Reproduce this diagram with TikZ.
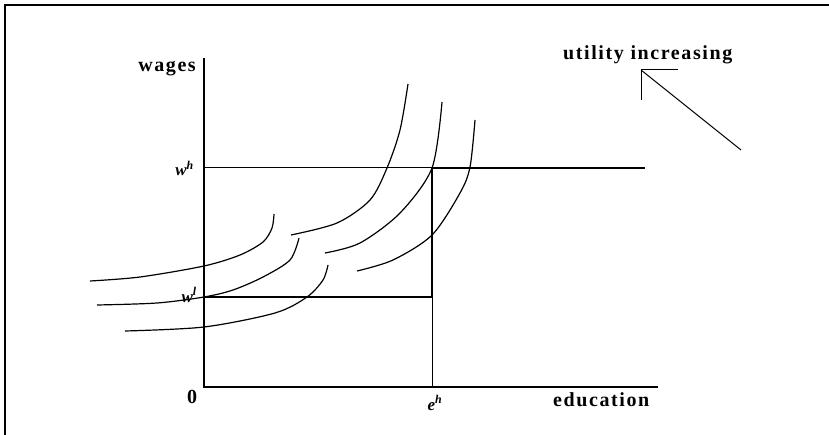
\documentclass[tikz,border=0pt]{standalone}
\usepackage{fontspec}
\setmainfont{Liberation Serif}
\newfontfamily\lblfont[LetterSpace=8]{Liberation Serif}
\usepackage{tikz}
\usetikzlibrary{positioning, calc}
\tikzset{
  tframe/.style={line width=2pt, line join=miter},
  taxis/.style={line width=2.6pt, line join=miter},
  tthin/.style={line width=1pt},
  tthick/.style={line width=2.2pt, line join=miter},
  tcurve/.style={line width=1.2pt},
  tlbl/.style={font=\lblfont\fontsize{20}{22}\selectfont\bfseries, inner sep=0pt},
  tsym/.style={font=\fontsize{17}{19}\selectfont\bfseries\itshape, inner sep=0pt},
}

\begin{document}
\begin{tikzpicture}[x=1pt, y=-1pt]
    \useasboundingbox (0,0) rectangle (829,435);
    \draw[tframe] (5,435) -- (5,5) -- (829,5);
    % axes and the separating contract
    \coordinate (O) at (204,387);
    \coordinate (ytop) at (204,58);
    \coordinate (xend) at (658,387);
    \coordinate (wh) at (204,168);
    \coordinate (whend) at (645,168);
    \coordinate (wl) at (204,297);
    \coordinate (eh) at (432,387);
    \coordinate (kink) at (432,168);
    \coordinate (lowcorner) at (432,297);
    \draw[taxis] (ytop) -- (O) -- (xend);
    \draw[tthin] (wh) -- (kink);
    \draw[tthick] (kink) -- (whend);
    \draw[tthin] (eh) -- (lowcorner);
    \draw[tthick] (wl) -- (lowcorner) -- (kink);
    % indifference curves
    \draw[tcurve] plot[smooth] coordinates {(90,281) (140,277) (204,266) (240,255) (263,242) (272,228) (274,214)};
    \draw[tcurve] plot[smooth] coordinates {(291,235) (337,223) (370,200) (387,168) (400,130) (408,84)};
    \draw[tcurve] plot[smooth] coordinates {(97,305) (157,303) (204,297) (233,290) (263,277) (290,260) (299,238)};
    \draw[tcurve] plot[smooth] coordinates {(325,253) (360,243) (400,213) (432,168) (442,102)};
    \draw[tcurve] plot[smooth] coordinates {(125,331) (204,327) (275,313) (307,297) (323,280) (328,265)};
    \draw[tcurve] plot[smooth] coordinates {(357,271) (393,260) (432,235) (460,193) (470,167) (475,120)};
    % labels
    \node[tlbl, anchor=base east] (wageslbl) at (196,72) {wages};
    \node[tlbl, anchor=base west] (edulbl) at (553,406) {education};
    \node[tlbl, anchor=base] (zerolbl) at (192,403) {0};
    \node[tsym, anchor=base] (ehlbl) at (435,410) {e\textsuperscript{h}};
    \node[tsym, anchor=base east] (whlbl) at (194,176) {w\textsuperscript{h}};
    \node[tsym, anchor=base east] (wllbl) at (197,302) {w\textsuperscript{l}};
    \node[tlbl, anchor=base west] (utillbl) at (563,60) {utility increasing};
    % direction of increasing utility
    \coordinate (arrtip) at (641,70);
    \coordinate (arrfoot) at (641,100);
    \coordinate (arrside) at (678,70);
    \coordinate (arrtail) at (741,150);
    \draw[tthin] (arrfoot) -- (arrtip) -- (arrside);
    \draw[tthin] (arrtip) -- (arrtail);
\end{tikzpicture}
\end{document}
